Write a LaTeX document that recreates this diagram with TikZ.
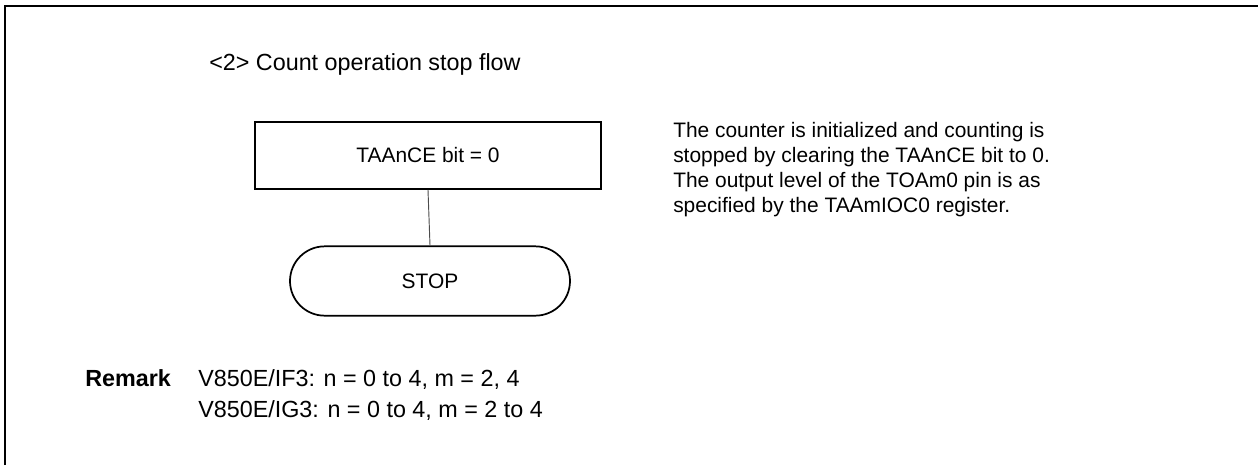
\documentclass[tikz,border=0pt]{standalone}
\usepackage{fontspec}
\setmainfont{Liberation Sans}
\usetikzlibrary{shapes.misc}
\begin{document}
\begin{tikzpicture}[x=0.75pt,y=-0.75pt,
  small/.style={font=\fontsize{15.7}{18.75}\selectfont},
  large/.style={font=\fontsize{17.5}{21}\selectfont},
  procbox/.style={draw,line width=1.5pt,small,minimum width=259.5pt,minimum height=50pt,inner sep=0pt},
  termbox/.style={draw,line width=1.3pt,small,rounded rectangle,minimum width=210pt,minimum height=52pt,inner sep=0pt},
  link/.style={draw=black!70,line width=0.7pt},
  frameline/.style={line width=1.9pt}]
\useasboundingbox (0,0) rectangle (1258,465);
\draw[frameline] (5,465) -- (5,6) -- (1258,6);
\node[large,anchor=base west,inner sep=0pt] (title) at (209,70) {<2> Count operation stop flow};
\node[procbox] (ce) at (428,155.5) {TAAnCE bit = 0};
\node[termbox] (stop) at (430,281) {STOP};
\draw[link] (ce.south) -- (stop.north);
\node[small,anchor=base west,inner sep=0pt] (d1) at (673,137) {The counter is initialized and counting is};
\node[small,anchor=base west,inner sep=0pt] (d2) at (673,162) {stopped by clearing the TAAnCE bit to 0.};
\node[small,anchor=base west,inner sep=0pt] (d3) at (673,187) {The output level of the TOAm0 pin is as};
\node[small,anchor=base west,inner sep=0pt] (d4) at (673,212) {specified by the TAAmIOC0 register.};
\node[large,anchor=base west,inner sep=0pt,font=\fontsize{17.5}{21}\selectfont\bfseries] (rem) at (85,386) {Remark};
\node[large,anchor=base west,inner sep=0pt] (r1) at (198,386) {V850E/IF3: n = 0 to 4, m = 2, 4};
\node[large,anchor=base west,inner sep=0pt] (r2) at (198,417) {V850E/IG3: n = 0 to 4, m = 2 to 4};
\end{tikzpicture}
\end{document}
